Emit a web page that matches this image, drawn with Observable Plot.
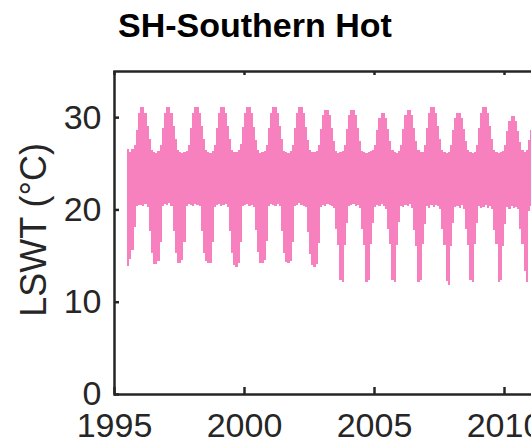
<!DOCTYPE html>
<html>
<head>
<meta charset="utf-8">
<script src="https://cdn.jsdelivr.net/npm/d3@7"></script>
<script src="https://cdn.jsdelivr.net/npm/@observablehq/plot@0.6"></script>
<style>
  html, body { margin: 0; padding: 0; background: #fff; overflow: hidden; width: 531px; height: 441px; }
  #title { position: relative; height: 60px; font: bold 34px "Liberation Sans", Arial, sans-serif; color: #000; }
  #title span { position: absolute; left: 118px; top: 8px; line-height: 34px; white-space: nowrap; }
  #chart { width: 660px; height: 381px; }
  #chart svg { display: block; max-width: none !important; width: 660px !important; height: 381px !important; }
</style>
</head>
<body>
<div id="title"><span>SH-Southern Hot</span></div>
<div id="chart"></div>
<script>
// Monthly lake surface water temperature range (°C) across the SH hot-lake group,
// starting July 1995. Each row is one calendar year (Jan..Dec).
const firstYear = 1995;
const firstMonth = 7;

const monthlyHigh = [
  /* 1995 */ 26.5, 26.2, 26.5, 27.0, 28.6, 30.5,
  /* 1996 */ 31.1, 31.1, 30.5, 29.0, 27.6, 26.4, 26.2, 26.1, 26.3, 27.0, 28.8, 30.5,
  /* 1997 */ 31.1, 31.1, 30.5, 29.0, 27.6, 26.4, 26.2, 26.1, 26.2, 26.3, 27.0, 28.8,
  /* 1998 */ 30.5, 31.1, 31.1, 30.5, 29.0, 27.6, 26.4, 26.2, 26.1, 26.3, 27.0, 28.8,
  /* 1999 */ 30.5, 31.1, 31.1, 30.5, 29.0, 27.6, 26.4, 26.2, 26.2, 26.4, 27.1, 28.9,
  /* 2000 */ 30.5, 31.1, 31.1, 30.5, 28.9, 27.5, 26.4, 26.1, 26.2, 26.3, 27.0, 28.8,
  /* 2001 */ 30.5, 31.1, 31.1, 30.5, 29.0, 27.6, 26.3, 26.2, 26.1, 26.3, 27.0, 28.8,
  /* 2002 */ 30.5, 31.1, 31.1, 30.4, 28.9, 27.5, 26.4, 26.2, 26.2, 26.3, 27.0, 28.7,
  /* 2003 */ 30.2, 30.8, 30.8, 30.2, 28.8, 27.4, 26.3, 26.1, 26.2, 26.3, 27.0, 28.7,
  /* 2004 */ 30.2, 30.8, 30.8, 30.2, 28.8, 27.4, 26.3, 26.2, 26.1, 26.2, 26.3, 26.4,
  /* 2005 */ 27.0, 28.6, 29.9, 30.5, 30.5, 29.9, 28.7, 27.4, 26.4, 26.2, 26.1, 26.3,
  /* 2006 */ 27.0, 28.7, 30.2, 30.8, 30.8, 30.2, 28.8, 27.4, 26.4, 26.2, 26.2, 27.0,
  /* 2007 */ 28.8, 30.5, 31.1, 31.1, 30.5, 29.0, 27.6, 26.4, 26.2, 26.1, 26.2, 27.0,
  /* 2008 */ 28.6, 29.9, 30.5, 30.5, 29.9, 28.7, 27.4, 26.4, 26.2, 26.1, 26.2, 27.0,
  /* 2009 */ 28.8, 30.5, 31.1, 31.1, 30.5, 29.0, 27.6, 26.4, 26.2, 26.1, 26.2, 26.3,
  /* 2010 */ 27.0, 28.5, 29.6, 30.1, 30.1, 29.6, 28.5, 27.3, 26.4, 26.2, 26.4, 27.5,
  /* 2011 */ 28.6
];

const monthlyLow = [
  /* 1995 */ 13.9, 14.6, 15.6, 18.1, 20.4, 20.5,
  /* 1996 */ 20.5, 20.4, 20.6, 20.3, 17.7, 15.3, 14.1, 14.1, 14.4, 16.5, 20.4, 20.6,
  /* 1997 */ 20.5, 20.7, 20.4, 17.7, 15.3, 14.2, 14.2, 14.5, 16.5, 20.4, 20.6, 20.5,
  /* 1998 */ 20.4, 20.6, 20.5, 20.4, 17.7, 15.3, 14.4, 14.2, 14.2, 16.5, 20.3, 20.5,
  /* 1999 */ 20.6, 20.4, 20.5, 20.6, 20.3, 17.7, 15.3, 14.0, 13.8, 14.2, 16.5, 20.4,
  /* 2000 */ 20.5, 20.6, 20.4, 20.5, 20.3, 17.8, 15.4, 14.2, 14.2, 14.5, 16.6, 20.4,
  /* 2001 */ 20.6, 20.5, 20.4, 20.6, 20.4, 17.7, 15.3, 14.3, 14.2, 14.4, 16.5, 20.4,
  /* 2002 */ 20.5, 20.7, 20.5, 20.4, 20.3, 17.6, 15.2, 14.0, 13.8, 14.1, 16.4, 20.3,
  /* 2003 */ 20.5, 20.4, 20.6, 20.5, 20.4, 20.2, 17.9, 16.1, 12.4, 12.1, 16.1, 18.5,
  /* 2004 */ 20.4, 20.5, 20.6, 20.4, 20.5, 20.2, 17.9, 16.1, 12.1, 12.4, 16.2, 18.5,
  /* 2005 */ 20.3, 20.5, 20.4, 20.6, 20.4, 20.1, 17.9, 16.2, 12.3, 12.1, 16.1, 18.6,
  /* 2006 */ 20.4, 20.3, 20.5, 20.4, 20.6, 20.2, 17.8, 16.0, 12.1, 12.3, 16.2, 18.4,
  /* 2007 */ 20.4, 20.2, 20.5, 20.3, 20.5, 20.4, 20.1, 17.9, 16.1, 12.2, 11.8, 16.0,
  /* 2008 */ 18.5, 20.3, 20.4, 20.2, 20.5, 20.1, 17.9, 16.1, 12.4, 12.1, 16.2, 18.5,
  /* 2009 */ 20.4, 20.2, 20.3, 20.5, 20.2, 20.4, 20.0, 17.8, 16.2, 12.1, 12.3, 16.0,
  /* 2010 */ 18.4, 20.3, 20.1, 20.4, 20.2, 20.3, 20.0, 17.9, 16.3, 13.3, 12.1, 19.8,
  /* 2011 */ 20.4
];

const xTicks = [1995, 2000, 2005, 2010];
const yTicks = [0, 10, 20, 30];
const xDomain = [1995, 2015];
const yDomain = [0, 35];

const pink = "#f781bf";
const ink = "#262626";
const font = "Liberation Sans, Arial, Helvetica, sans-serif";

// One record per month; a closing record ends the last month's step.
const series = monthlyHigh.map((hi, i) => ({
  t: firstYear + (firstMonth - 1 + i) / 12,
  hi,
  lo: monthlyLow[i]
}));
const last = series[series.length - 1];
series.push({t: last.t + 1 / 12, hi: last.hi, lo: last.lo});

const width = 660, height = 381;
const marginLeft = 114, marginTop = 11, marginBottom = 47;
const plotW = 520;
const marginRight = width - marginLeft - plotW;
const plotH = height - marginTop - marginBottom;

const chart = Plot.plot({
  width, height, marginLeft, marginRight, marginTop, marginBottom,
  style: {fontFamily: font, color: ink, background: "#fff", maxWidth: "none"},
  x: {domain: xDomain},
  y: {domain: yDomain},
  marks: [
    Plot.areaY(series, {
      x: "t", y1: "lo", y2: "hi",
      curve: "step-after", fill: pink, shapeRendering: "crispEdges"
    }),
    // inward tick marks on bottom, top and left edges
    Plot.tickX(xTicks, {x: d => d, stroke: ink, strokeWidth: 2.5, insetTop: plotH - 7}),
    Plot.tickX(xTicks, {x: d => d, stroke: ink, strokeWidth: 2.5, insetBottom: plotH - 4}),
    Plot.tickY(yTicks, {y: d => d, stroke: ink, strokeWidth: 2.5, insetRight: plotW - 5}),
    Plot.frame({stroke: ink, strokeWidth: 2.5}),
    Plot.axisX(xTicks, {
      tickSize: 0, tickPadding: 18, label: null,
      fontSize: 34, fontFamily: font, fill: ink, tickFormat: d => String(d)
    }),
    Plot.axisY(yTicks, {
      tickSize: 0, tickPadding: 13, label: null,
      fontSize: 34, fontFamily: font, fill: ink, tickFormat: d => String(d)
    }),
    Plot.text(["LSWT (°C)"], {
      frameAnchor: "left", rotate: -90, dx: -69, dy: -3,
      textAnchor: "middle", lineAnchor: "bottom",
      fontSize: 36, fontFamily: font, fill: ink
    })
  ]
});

document.getElementById("chart").appendChild(chart);
</script>
</body>
</html>
